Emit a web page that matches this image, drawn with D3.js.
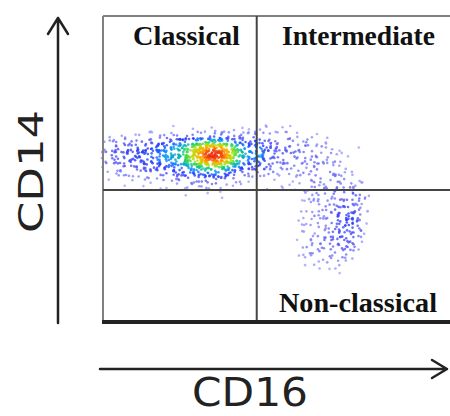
<!DOCTYPE html>
<html>
<head>
<meta charset="utf-8">
<script src="https://cdn.jsdelivr.net/npm/d3@7"></script>
<style>
  body { margin: 0; background: #fff; }
</style>
</head>
<body>
<script>
// monocyte gating plot, CD16 vs CD14 (arbitrary channel units 0..100)
const binSize = 2;        // each density cell is 2 x 2 units
const cd16Start = 0;      // left edge of column 0
const cd14Top = 66;       // top edge of row 0

// event counts per cell, base 36 (0-9, a=10 ... l=21), rows top -> bottom
const densityRows = [
  "000000000000000000000001000000000000000",
  "000000000010110110110111011010000000000",
  "101111212223233333222232212111101000000",
  "222323334455678887654453222212111000000",
  "233344455678aceggeb86564323222121100010",
  "333445556778behlkhc97674332322212110000",
  "233344556678acfhhfb865643232222212110000",
  "222333444556789aa9764443222221222111000",
  "112222233344556665433222212122212211100",
  "011111212223333333221111110111221221110",
  "000101011111212221111001011011212222110",
  "000000000000101101000000001112222323210",
  "000000000000000001000000000001121222321",
  "000000000000000000000000000011212233210",
  "000000000000000000000000000011122334310",
  "000000000000000000000000000011212344310",
  "000000000000000000000000000011122345410",
  "000000000000000000000000000011212334320",
  "000000000000000000000000000011122333310",
  "000000000000000000000000000011223333210",
  "000000000000000000000000000012122233200",
  "000000000000000000000000000011222222100",
  "000000000000000000000000000011112121100",
  "000000000000000000000000000001111110000",
  "000000000000000000000000000000010100000"
];

// gate thresholds
const cd16Gate = 44.3;
const cd14Gate = 43.3;

const quadrantLabels = ["Classical", "Intermediate", "Non-classical"];
const axisLabels = ["CD16", "CD14"];

const width = 450, height = 416;

const x = d3.scaleLinear().domain([0, 100]).range([103, 450]);
const y = d3.scaleLinear().domain([0, 100]).range([323, 16]);

const counts = densityRows.map(s => s.split("").map(ch => parseInt(ch, 36)));
const nRows = counts.length;

function cell(r, c) {
  if (r < 0 || r >= nRows || c < 0) return 0;
  return counts[r][c] || 0;
}

// bilinear density, used only for the dot colour
function density(cx, cy) {
  const gc = (cx - cd16Start) / binSize - 0.5;
  const gr = (cd14Top - cy) / binSize - 0.5;
  const c0 = Math.floor(gc), r0 = Math.floor(gr);
  const fc = gc - c0, fr = gr - r0;
  return cell(r0, c0) * (1 - fc) * (1 - fr) + cell(r0, c0 + 1) * fc * (1 - fr)
    + cell(r0 + 1, c0) * (1 - fc) * fr + cell(r0 + 1, c0 + 1) * fc * fr;
}

// fixed integer hash -> [0,1), only to place events inside their cell
function hash(i) {
  i = Math.imul(i ^ (i >>> 16), 0x45d9f3b);
  i = Math.imul(i ^ (i >>> 16), 0x45d9f3b);
  i = i ^ (i >>> 16);
  return (i >>> 0) / 4294967296;
}

const points = [];
counts.forEach((row, r) => {
  row.forEach((n, c) => {
    for (let k = 0; k < n; k++) {
      const s = (r * 64 + c) * 32 + k;
      const u = hash(s * 2 + 1), v = hash(s * 2 + 7919);
      const cx = cd16Start + binSize * (c + u * 1.4 - 0.2);
      const cy = cd14Top - binSize * (r + v * 1.4 - 0.2);
      points.push({ cx, cy, d: density(cx, cy) });
    }
  });
});
points.sort((a, b) => a.d - b.d);

const color = d3.scaleLinear()
  .domain([0.5, 2.5, 4.5, 6.2, 8.5, 11.5, 15, 19])
  .range(["#a4a4ff", "#5a5af4", "#2436ff", "#0090ff", "#10d070", "#b4e400", "#ffa800", "#f03010"])
  .clamp(true);

const svg = d3.select("body").append("svg")
  .attr("width", width)
  .attr("height", height);

// events
svg.append("g")
  .selectAll("circle")
  .data(points)
  .join("circle")
  .attr("cx", d => x(d.cx))
  .attr("cy", d => y(d.cy))
  .attr("r", 1.3)
  .attr("fill", d => color(d.d))
  .attr("fill-opacity", 0.8);

// plot frame
const frame = svg.append("g");
frame.append("line")
  .attr("x1", x(0)).attr("x2", x(0))
  .attr("y1", y(100)).attr("y2", y(0))
  .attr("stroke", "#808080").attr("stroke-width", 2);
frame.append("line")
  .attr("x1", x(0)).attr("x2", x(100))
  .attr("y1", y(100)).attr("y2", y(100))
  .attr("stroke", "#808080").attr("stroke-width", 2);

// gates
frame.append("line")
  .attr("x1", x(cd16Gate)).attr("x2", x(cd16Gate))
  .attr("y1", y(100)).attr("y2", y(0))
  .attr("stroke", "#444").attr("stroke-width", 2);
frame.append("line")
  .attr("x1", x(0)).attr("x2", x(100))
  .attr("y1", y(cd14Gate)).attr("y2", y(cd14Gate))
  .attr("stroke", "#444").attr("stroke-width", 2);

frame.append("line")
  .attr("x1", x(0) - 1).attr("x2", x(100))
  .attr("y1", y(0) - 1).attr("y2", y(0) - 1)
  .attr("stroke", "#222").attr("stroke-width", 4);

// quadrant names
const labelFont = "'Liberation Serif', 'Times New Roman', serif";
const qPos = [[133, 45, 107], [282, 45, 153], [279, 312, 158]];
svg.append("g")
  .selectAll("text")
  .data(quadrantLabels)
  .join("text")
  .attr("x", (d, i) => qPos[i][0])
  .attr("y", (d, i) => qPos[i][1])
  .attr("textLength", (d, i) => qPos[i][2])
  .attr("lengthAdjust", "spacingAndGlyphs")
  .attr("font-family", labelFont)
  .attr("font-weight", "bold")
  .attr("font-size", 27)
  .attr("fill", "#111")
  .text(d => d);

// axis arrows
const arrows = svg.append("g")
  .attr("fill", "none")
  .attr("stroke", "#222")
  .attr("stroke-width", 2.5)
  .attr("stroke-linecap", "round")
  .attr("stroke-linejoin", "round");
arrows.append("path").attr("d", "M100,369 L447,369 M432,360 L447,369 L432,378");
arrows.append("path").attr("d", "M58,323 L58,18 M48,34 L58,18 L68,34");

svg.append("text")
  .attr("x", 192).attr("y", 406)
  .attr("textLength", 116)
  .attr("lengthAdjust", "spacingAndGlyphs")
  .attr("font-family", "'DejaVu Sans', Verdana, sans-serif")
  .attr("font-size", 39)
  .attr("fill", "#222")
  .text(axisLabels[0]);

svg.append("text")
  .attr("transform", "translate(43,233) rotate(-90)")
  .attr("textLength", 123)
  .attr("lengthAdjust", "spacingAndGlyphs")
  .attr("font-family", "'DejaVu Sans', Verdana, sans-serif")
  .attr("font-size", 34)
  .attr("fill", "#222")
  .text(axisLabels[1]);
</script>
</body>
</html>
